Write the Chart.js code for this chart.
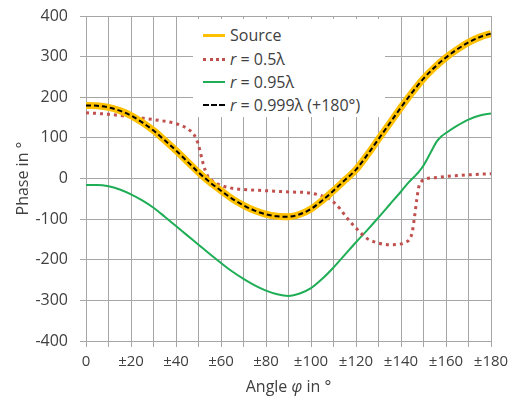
<!DOCTYPE html>
<html lang="en">
<head>
<meta charset="UTF-8">
<title>Phase vs angle</title>
<script src="https://cdn.jsdelivr.net/npm/chart.js"></script>
<style>
    html, body { margin: 0; padding: 0; background: #fff; }
    .wrap { position: relative; width: 508px; height: 396px; }
    #legend { position: absolute; left: 193px; top: 19px; width: 192px; height: 98px; background: #fff;
              font: 16px 'Open Sans', sans-serif; color: #404040; }
    .row { position: absolute; left: 10px; height: 20px; display: flex; align-items: center; white-space: nowrap; }
    .sw { width: 22px; height: 0; margin-right: 5px; }
    i { font-style: italic; }
</style>
</head>
<body>
<div class="wrap">
    <canvas id="phaseChart" width="508" height="396"></canvas>
    <div id="legend">
        <div class="row" style="top:6px"><span class="sw" style="border-top:3px solid #ffc000"></span>Source</div>
        <div class="row" style="top:30px"><span class="sw" style="border-top:3px dotted #c0504d"></span><i>r</i>&nbsp;= 0.5λ</div>
        <div class="row" style="top:53px"><span class="sw" style="border-top:2px solid #1fae56"></span><i>r</i>&nbsp;= 0.95λ</div>
        <div class="row" style="top:76px"><span class="sw" style="border-top:2px dashed #000"></span><i>r</i>&nbsp;= 0.999λ (+180°)</div>
    </div>
</div>
<script>
const sourceAngles = [0,5,10,15,20,25,30,35,40,45,50,55,60,65,70,75,80,85,90,95,100,105,110,115,120,125,130,135,140,145,150,155,160,165,170,175,180];
const sourceValues = [180,179,175,167,155,138,118,94,69,42,15,-9,-30,-50,-66,-79,-88,-93,-94,-88,-75,-54,-30,-4,22,58,97,136,175,212,246,274,298,318,335,348,357];

const r999Angles = [0,5,10,15,20,25,30,35,40,45,50,55,60,65,70,75,80,85,90,95,100,105,110,115,120,125,130,135,140,145,150,155,160,165,170,175,180];
const r999Values = [180,179,175,167,155,138,118,94,69,42,15,-9,-30,-50,-66,-79,-88,-93,-94,-88,-75,-54,-30,-4,22,58,97,136,175,212,246,274,298,318,335,348,357];

const r05Angles = [0,10,20,30,40,45,48,49,50,51,52,53,54,56,58,60,65,70,80,90,100,105,108,110,113,115,118,120,125,130,135,140,142,144,145,146,147,148,149,150,155,160,170,180];
const r05Values = [162,158,152,145,135,123,108,98,82,60,38,20,7,-5,-12,-17,-24,-27,-30,-33,-36,-43,-50,-58,-75,-90,-110,-122,-148,-159,-163,-161,-157,-148,-132,-95,-52,-18,-8,-3,2,5,9,12];

const r095Angles = [0,5,10,15,20,25,30,35,40,45,50,55,60,65,70,75,80,85,90,95,100,105,110,115,120,125,130,135,140,143,146,148,150,153,156,158,160,165,170,175,180];
const r095Values = [-16,-16,-19,-27,-39,-54,-72,-94,-117,-140,-163,-186,-208,-229,-247,-263,-276,-285,-289,-283,-270,-247,-219,-188,-157,-127,-96,-64,-32,-12,5,17,32,62,92,104,112,130,145,155,160];

const xTickStep = 10;
const yTicks = { min: -400, max: 400, step: 100 };

const pts = (xs, ys) => xs.map((x, i) => ({ x: x, y: ys[i] }));
const FONT = "'Open Sans', sans-serif";
const TEXT = '#404040';
const GRID = '#a6a6a6';

// x title has an italic phi, so draw it by hand
const xTitle = {
    id: 'xTitle',
    afterDraw(chart) {
        const c = chart.ctx, a = chart.chartArea;
        const parts = [['Angle ', ''], ['φ', 'italic '], [' in °', '']];
        c.save();
        c.fillStyle = TEXT;
        c.textBaseline = 'middle';
        let w = 0;
        parts.forEach(p => { c.font = p[1] + '16px ' + FONT; w += c.measureText(p[0]).width; });
        let x = (a.left + a.right) / 2 - w / 2;
        parts.forEach(p => { c.font = p[1] + '16px ' + FONT; c.fillText(p[0], x, 387); x += c.measureText(p[0]).width; });
        c.restore();
    }
};

new Chart(document.getElementById('phaseChart'), {
    type: 'line',
    data: {
        datasets: [
            { data: pts(r999Angles, r999Values), borderColor: '#000', borderWidth: 2, borderDash: [5, 3], order: 0 },
            { data: pts(sourceAngles, sourceValues), borderColor: '#ffc000', borderWidth: 7, order: 1 },
            { data: pts(r05Angles, r05Values), borderColor: '#c0504d', borderWidth: 3, borderDash: [3, 4], order: 2 },
            { data: pts(r095Angles, r095Values), borderColor: '#1fae56', borderWidth: 2, order: 3 }
        ]
    },
    options: {
        responsive: false,
        animation: false,
        layout: { padding: { top: 16, right: 17, left: 0, bottom: 0 } },
        elements: { point: { radius: 0 }, line: { cubicInterpolationMode: 'monotone' } },
        plugins: { legend: { display: false }, tooltip: { enabled: false } },
        scales: {
            x: {
                type: 'linear', min: 0, max: 180,
                afterFit: s => { s.height = 55; s.paddingLeft = 0; s.paddingRight = 0; },
                ticks: {
                    stepSize: xTickStep, autoSkip: false, maxRotation: 0, color: TEXT, padding: 6,
                    font: { family: FONT, size: 15 },
                    callback: v => v % 20 ? '' : (v === 0 ? '0' : '±' + v)
                },
                grid: { color: GRID, tickLength: 6 },
                border: { color: GRID }
            },
            y: {
                min: yTicks.min, max: yTicks.max,
                afterFit: s => { s.width = 86; s.paddingTop = 0; s.paddingBottom = 0; },
                ticks: { stepSize: yTicks.step, color: TEXT, padding: 12, font: { family: FONT, size: 16 } },
                grid: { color: GRID, tickLength: 6 },
                border: { color: GRID },
                title: { display: true, text: 'Phase in °', color: TEXT, font: { family: FONT, size: 16 }, padding: { top: 14, bottom: 0 } }
            }
        }
    },
    plugins: [xTitle]
});
</script>
</body>
</html>
